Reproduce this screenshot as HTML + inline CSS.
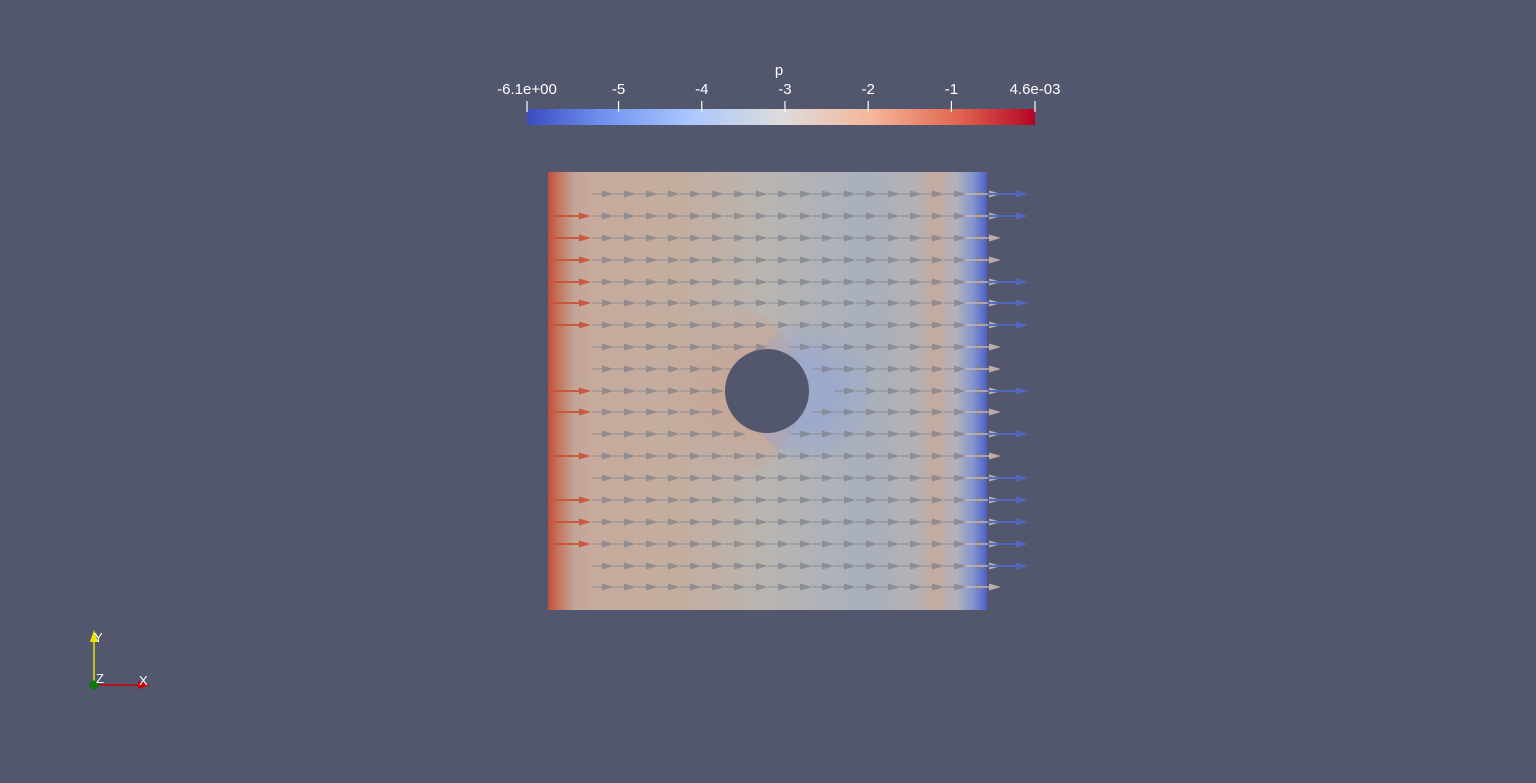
<!DOCTYPE html>
<html><head><meta charset="utf-8"><style>
html,body{margin:0;padding:0;background:#52576e;width:1536px;height:783px;overflow:hidden}
svg{display:block}
text{font-family:"Liberation Sans",sans-serif;fill:#fff}
</style></head><body>
<svg id="s" width="1536" height="783" viewBox="0 0 1536 783">
<defs>
<linearGradient id="cb" x1="0" x2="1" y1="0" y2="0">
<stop offset="0" stop-color="#3b4cc0"/><stop offset="0.15" stop-color="#6f92f0"/>
<stop offset="0.32" stop-color="#aac7fd"/><stop offset="0.5" stop-color="#dddcdc"/>
<stop offset="0.68" stop-color="#f6b69a"/><stop offset="0.85" stop-color="#e0654f"/>
<stop offset="1" stop-color="#b40426"/></linearGradient>
<linearGradient id="fld" x1="548" x2="987" y1="0" y2="0" gradientUnits="userSpaceOnUse">
<stop offset="0" stop-color="#c04d3a"/><stop offset="0.025" stop-color="#c5785f"/>
<stop offset="0.06" stop-color="#c2a597"/><stop offset="0.1" stop-color="#c6aa9c"/>
<stop offset="0.3" stop-color="#c4ad9f"/><stop offset="0.5" stop-color="#b8b5b1"/>
<stop offset="0.72" stop-color="#a9b0bd"/><stop offset="0.84" stop-color="#b3b1b4"/>
<stop offset="0.88" stop-color="#c6aa9d"/><stop offset="0.93" stop-color="#b2b2ba"/>
<stop offset="0.97" stop-color="#8193cf"/><stop offset="1" stop-color="#4b60c3"/></linearGradient>
<radialGradient id="halo" cx="767" cy="391" r="100" gradientUnits="userSpaceOnUse">
<stop offset="0.4" stop-color="#d29a82" stop-opacity="0.45"/><stop offset="1" stop-color="#d29a82" stop-opacity="0"/></radialGradient>
<radialGradient id="haloB" cx="800" cy="395" r="80" gradientUnits="userSpaceOnUse">
<stop offset="0.4" stop-color="#8fa3d8" stop-opacity="0.6"/><stop offset="1" stop-color="#8fa3d8" stop-opacity="0"/></radialGradient>
</defs>
<g>
<text x="779" y="75" font-size="15" text-anchor="middle">p</text>
<rect x="527" y="109" width="508" height="16" fill="url(#cb)"/>
<g id="cbt"></g>
</g>
<g>
<rect x="548" y="172" width="439" height="438" fill="url(#fld)"/>
<ellipse cx="730" cy="391" rx="70" ry="85" fill="url(#halo)"/>
<ellipse cx="810" cy="391" rx="60" ry="70" fill="url(#haloB)"/>
<g id="arrows"></g>
<circle cx="767" cy="391" r="42" fill="#52576e"/>
</g>
<g>
<line x1="94" y1="685" x2="94" y2="640" stroke="#e6e600" stroke-width="1.5"/>
<polygon points="90,642 98,642 94,630" fill="#e6e600"/>
<line x1="94" y1="685" x2="140" y2="685" stroke="#c00" stroke-width="1.5"/>
<polygon points="138,681 138,689 150,685" fill="#c00"/>
<circle cx="94" cy="685" r="4.5" fill="#0a7a0a"/>
<text x="94" y="642" font-size="13">Y</text>
<text x="96" y="683" font-size="13">Z</text>
<text x="139" y="685" font-size="13">X</text>
</g>
</svg>
<script>
const tickValues=[-6.1,-5,-4,-3,-2,-1,0.0046];
const tickLabels=["-6.1e+00","-5","-4","-3","-2","-1","4.6e-03"];
const rowYs=[194,216,238,260,282,303,325,347,369,391,412,434,456,478,500,522,544,566,587];
const leftInflow=[0,1,1,1,1,1,1,0,0,1,1,0,1,0,1,1,1,0,0];
const rightOutflow=[1,1,0,0,1,1,1,0,0,1,0,1,0,1,1,1,1,1,0];
const NS="http://www.w3.org/2000/svg";
const vmin=-6.1,vmax=0.0046,x0=527,x1=1035;
const sx=v=>x0+(v-vmin)/(vmax-vmin)*(x1-x0);
const cbt=document.getElementById('cbt');
tickValues.forEach((v,i)=>{
 const l=document.createElementNS(NS,'line');
 
 
 l.setAttribute('x1',sx(v));l.setAttribute('x2',sx(v));l.setAttribute('y1',101);l.setAttribute('y2',112);
 l.setAttribute('stroke','#fff');l.setAttribute('stroke-width','1.2');cbt.appendChild(l);
 const t=document.createElementNS(NS,'text');
 
 
 t.setAttribute('x',sx(v));t.setAttribute('y',94);t.setAttribute('font-size','15');t.setAttribute('text-anchor','middle');
 t.textContent=tickLabels[i];cbt.appendChild(t);
});
const ag=document.getElementById('arrows');
function arrow(x,y,len,col,op,w){
 const g=document.createElementNS(NS,'g');
 
 
 g.setAttribute('opacity',op);
 const l=document.createElementNS(NS,'line');
 l.setAttribute('x1',x);l.setAttribute('x2',x+len-8);l.setAttribute('y1',y);l.setAttribute('y2',y);
 l.setAttribute('stroke',col);l.setAttribute('stroke-width',w);g.appendChild(l);
 const p=document.createElementNS(NS,'polygon');
 p.setAttribute('points',`${x+len-12},${y-3.5} ${x+len-12},${y+3.5} ${x+len},${y}`);
 p.setAttribute('fill',col);g.appendChild(p);ag.appendChild(g);
}
rowYs.forEach((y,i)=>{
 if(leftInflow[i]) arrow(549,y,42,'#c8553e',0.95,2);
 for(let x=592;x<980;x+=22){
  const dx=x-767,dy=y-391;
  if(dx*dx+dy*dy<48*48) continue;
  arrow(x,y,22,'#7d8089',0.7,1);
 }
 arrow(965,y,36,'#d8c0b4',0.8,1.5);
 if(rightOutflow[i]) arrow(988,y,40,'#5068c0',0.95,2);
});
</script>
</body></html>
